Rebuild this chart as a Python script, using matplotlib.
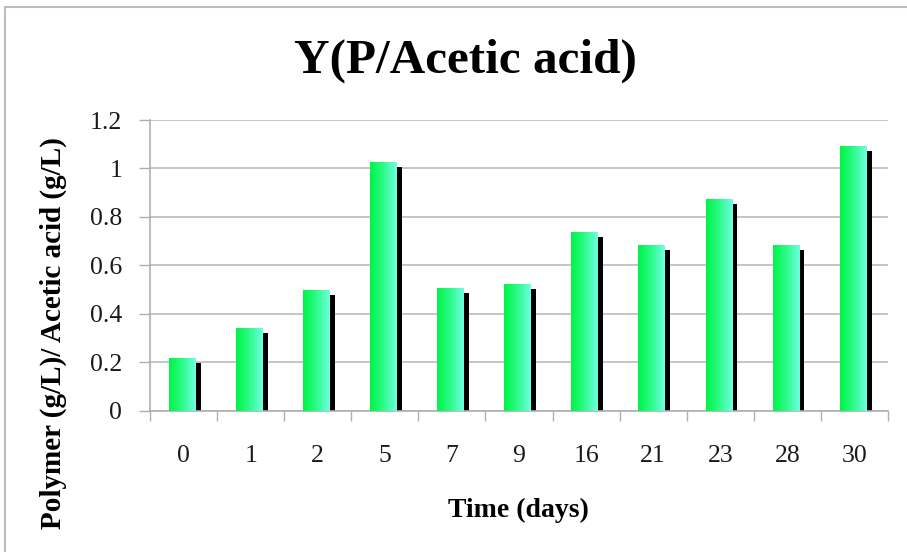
import matplotlib
matplotlib.use("Agg")
import matplotlib.pyplot as plt
from matplotlib.patches import Rectangle
import numpy as np

# yield of polymer per acetic acid over time
days = ["0", "1", "2", "5", "7", "9", "16", "21", "23", "28", "30"]
yield_ratio = [0.216, 0.342, 0.498, 1.027, 0.507, 0.524, 0.737, 0.683, 0.874, 0.685, 1.094]
y_ticks = [0, 0.2, 0.4, 0.6, 0.8, 1.0, 1.2]
y_tick_labels = ["0", "0.2", "0.4", "0.6", "0.8", "1", "1.2"]

plt.rcParams['font.family'] = ['Liberation Serif', 'DejaVu Serif']

W, H = 907, 552
fig = plt.figure(figsize=(W / 100, H / 100), dpi=100)
ax = fig.add_axes([150 / W, 1 - 410.7 / H, 738 / W, 290.7 / H])

# outer chart frame
fig.patches.append(Rectangle((5 / W, -0.1), 1.2, 1 - 7 / H + 0.1,
                             transform=fig.transFigure, fill=False,
                             edgecolor="#BDBDBD", linewidth=1.5))

x = np.arange(len(days))
bar_w = 0.40
shift = -0.02
shadow_dx = 0.075
shadow_dy = 0.021

# horizontal green -> aquamarine gradient
grad_cols = np.array([[0, 245, 70], [40, 250, 130], [110, 255, 225]]) / 255.0
t = np.linspace(0, 1, 64)
grad = np.stack([np.interp(t, [0, 0.45, 1], grad_cols[:, c]) for c in range(3)], axis=-1)
grad = grad[np.newaxis, :, :]

for xi, v in zip(x, yield_ratio):
    # dark shadow behind each bar
    ax.bar(xi + shift + shadow_dx, v - shadow_dy, width=bar_w, color="black",
           linewidth=0, zorder=2)
    left = xi + shift - bar_w / 2
    rect = Rectangle((left, 0), bar_w, v, facecolor="none", edgecolor="none", zorder=3)
    ax.add_patch(rect)
    im = ax.imshow(grad, extent=[left, left + bar_w, 0, v], aspect="auto",
                   zorder=3, interpolation="bilinear")
    im.set_clip_path(rect)

ax.set_xlim(-0.5, len(days) - 0.5)
ax.set_ylim(0, 1.2)

ax.set_yticks(y_ticks)
ax.set_yticklabels(y_tick_labels)
ax.set_xticks(x)
ax.set_xticklabels(days)
ax.set_xticks(np.arange(-0.5, len(days), 1), minor=True)

ax.tick_params(axis="x", which="major", length=0, pad=25, labelsize=18.5, labelcolor="#1a1a1a")
ax.tick_params(axis="x", which="minor", length=7, width=1, color="#AFAFAF")
ax.tick_params(axis="y", length=8, width=1, color="#AFAFAF", pad=12, labelsize=18.5,
               labelcolor="#1a1a1a")

ax.grid(axis="y", color="#C0C0C0", linewidth=1.3, zorder=0)
ax.set_axisbelow(True)
for s in ["top", "right"]:
    ax.spines[s].set_visible(False)
for s in ["left", "bottom"]:
    ax.spines[s].set_color("#AFAFAF")
    ax.spines[s].set_linewidth(1.2)

fig.text(465 / W, 1 - 73 / H, "Y(P/Acetic acid)", ha="center", va="baseline",
         fontsize=35.5, fontweight="bold")
fig.text(518 / W, 1 - 517 / H, "Time (days)", ha="center", va="baseline",
         fontsize=20, fontweight="bold")
fig.text(53 / W, 1 - 333 / H, "Polymer (g/L)/ Acetic acid (g/L)", ha="center",
         va="center", rotation=90, fontsize=21, fontweight="bold")

fig.savefig("out.png", dpi=100)
